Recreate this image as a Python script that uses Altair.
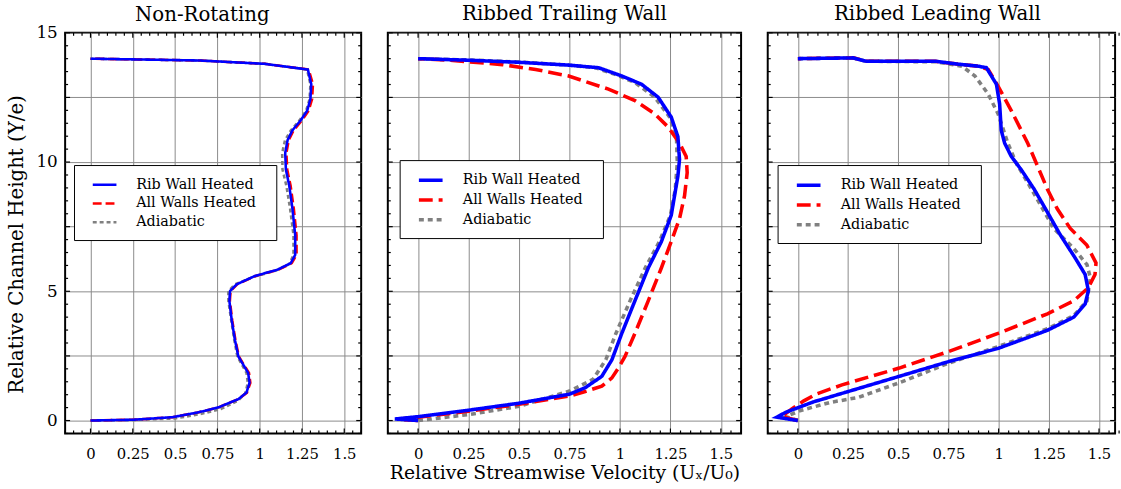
import altair as alt
import pandas as pd

SERIES = ["Rib Wall Heated", "All Walls Heated", "Adiabatic"]
COLORS = ["#0000ff", "#ff0000", "#808080"]

TITLES = ["Non-Rotating", "Ribbed Trailing Wall", "Ribbed Leading Wall"]
X_TITLE = "Relative Streamwise Velocity (U\u2093/U\u2080)"
Y_TITLE = "Relative Channel Height (Y/e)"

X_TICK_VALUES = [0, 0.25, 0.5, 0.75, 1, 1.25, 1.5]
Y_GRID_VALUES = [0, 2.5, 5, 7.5, 10, 12.5, 15]

# ---------------- Non-Rotating ----------------
nr_blue_x = [0, 0.25, 0.485, 0.64, 0.757, 0.874, 0.922, 0.94, 0.932, 0.903, 0.874, 0.854, 0.835, 0.821, 0.825, 0.864,
             0.971, 1.107, 1.184, 1.21, 1.21, 1.194, 1.175, 1.155, 1.151, 1.165, 1.194, 1.242, 1.281, 1.30, 1.305,
             1.285, 1.029, 0.64, 0]
nr_blue_y = [0, 0.03, 0.13, 0.32, 0.51, 0.83, 1.08, 1.46, 1.84, 2.16, 2.48, 3.11, 3.87, 4.63, 5.01, 5.27,
             5.59, 5.84, 6.09, 6.41, 7.17, 8.19, 9.08, 9.71, 10.35, 10.85, 11.23, 11.61, 11.99, 12.44, 13.01,
             13.58, 13.8, 13.93, 14.0]
nr_red_x = [0, 0.25, 0.485, 0.64, 0.757, 0.874, 0.925, 0.945, 0.937, 0.906, 0.877, 0.857, 0.838, 0.824, 0.828, 0.867,
            0.975, 1.112, 1.19, 1.218, 1.218, 1.202, 1.183, 1.163, 1.158, 1.172, 1.201, 1.25, 1.29, 1.31, 1.315,
            1.29, 1.029, 0.64, 0]
nr_red_y = nr_blue_y
nr_gray_x = [0, 0.25, 0.5, 0.65, 0.77, 0.874, 0.915, 0.93, 0.922, 0.895, 0.868, 0.85, 0.832, 0.815, 0.815, 0.855,
             0.96, 1.095, 1.175, 1.2, 1.2, 1.18, 1.158, 1.135, 1.133, 1.15, 1.185, 1.235, 1.275, 1.295, 1.3,
             1.28, 1.029, 0.64, 0]
nr_gray_y = [0, 0.02, 0.08, 0.25, 0.44, 0.78, 1.05, 1.46, 1.84, 2.16, 2.48, 3.11, 3.87, 4.63, 5.01, 5.27,
             5.55, 5.8, 6.05, 6.41, 7.17, 8.19, 9.08, 9.71, 10.35, 10.85, 11.23, 11.61, 11.99, 12.44, 13.01,
             13.58, 13.8, 13.93, 14.0]

# ---------------- Ribbed Trailing Wall ----------------
tr_blue_x = [0, -0.115, 0.0, 0.25, 0.5, 0.75, 0.828, 0.91, 0.96, 1.009, 1.074, 1.14, 1.205, 1.254, 1.287, 1.295,
             1.287, 1.254, 1.189, 1.107, 1.009, 0.894, 0.746, 0.5, 0.25, 0]
tr_blue_y = [0, 0.06, 0.15, 0.4, 0.67, 1.02, 1.27, 1.71, 2.35, 3.37, 4.63, 5.9, 6.92, 7.94, 9.46, 10.09,
             10.98, 11.74, 12.51, 13.01, 13.33, 13.65, 13.75, 13.86, 13.94, 14.0]
tr_red_x = [0, -0.1, 0.0, 0.25, 0.5, 0.75, 0.828, 0.91, 0.96, 0.992, 1.025, 1.074, 1.14, 1.205, 1.254, 1.295,
            1.32, 1.333, 1.328, 1.295, 1.238, 1.172, 1.074, 0.943, 0.746, 0.582, 0.418, 0.172, 0]
tr_red_y = [0, 0.05, 0.13, 0.36, 0.63, 0.95, 1.12, 1.33, 1.65, 2.03, 2.48, 3.37, 4.63, 5.9, 6.92, 7.81,
            8.7, 9.59, 10.22, 10.73, 11.36, 11.87, 12.38, 12.82, 13.33, 13.58, 13.77, 13.93, 14.0]
tr_gray_x = [0, 0.25, 0.5, 0.75, 0.866, 0.93, 0.98, 1.05, 1.125, 1.195, 1.25, 1.274, 1.284, 1.28, 1.246,
             1.172, 1.074, 0.976, 0.878, 0.73, 0.5, 0.25, 0]
tr_gray_y = [0, 0.23, 0.55, 1.14, 1.59, 2.35, 3.37, 4.63, 5.9, 6.92, 7.94, 8.95, 9.97, 10.98, 11.74,
             12.51, 13.08, 13.39, 13.65, 13.76, 13.87, 13.95, 14.0]

# ---------------- Ribbed Leading Wall ----------------
ld_blue_x = [0, -0.105, -0.06, 0.077, 0.241, 0.505, 0.751, 0.997, 1.243, 1.374, 1.431, 1.447, 1.431, 1.382, 1.308,
             1.243, 1.177, 1.112, 1.063, 1.03, 1.013, 1.005, 0.989, 0.939, 0.898, 0.784, 0.685, 0.341, 0.275, 0]
ld_blue_y = [0, 0.13, 0.32, 0.72, 1.1, 1.71, 2.28, 2.79, 3.49, 4.0, 4.51, 5.02, 5.65, 6.28, 7.17,
             8.06, 8.95, 9.71, 10.22, 10.73, 11.23, 12.25, 13.01, 13.65, 13.71, 13.8, 13.9, 13.9, 14.03, 14.0]
ld_red_x = [0, -0.08, -0.03, 0.03, 0.09, 0.22, 0.505, 0.751, 0.997, 1.243, 1.374, 1.447, 1.48, 1.485, 1.439, 1.357,
            1.292, 1.243, 1.194, 1.145, 1.104, 1.063, 0.997, 0.948, 0.898, 0.784, 0.685, 0.341, 0.275, 0]
ld_red_y = [0, 0.15, 0.45, 0.76, 1.02, 1.38, 2.03, 2.67, 3.37, 4.13, 4.63, 5.14, 5.65, 6.1, 6.79, 7.43,
            8.19, 8.95, 9.84, 10.73, 11.36, 11.99, 12.94, 13.58, 13.71, 13.8, 13.9, 13.9, 14.03, 14.0]
ld_gray_x = [0, -0.06, 0.01, 0.16, 0.3, 0.505, 0.751, 0.997, 1.243, 1.374, 1.44, 1.457, 1.44, 1.374, 1.275,
             1.21, 1.145, 1.087, 1.046, 0.997, 0.948, 0.882, 0.817, 0.685, 0.341, 0.275, 0]
ld_gray_y = [0, 0.15, 0.38, 0.7, 0.89, 1.46, 2.22, 2.86, 3.55, 4.06, 4.63, 5.52, 6.03, 6.66, 7.43,
             8.32, 9.2, 9.97, 10.73, 11.87, 12.63, 13.33, 13.71, 13.88, 13.9, 14.03, 14.0]

FONT = "DejaVu Serif"
H = 406
Y_DOMAIN = [-0.5, 15]


def frame(series_xy):
    rows = []
    for name, xs, ys in series_xy:
        for i, (x, y) in enumerate(zip(xs, ys)):
            rows.append({"x": x, "y": y, "i": i, "series": name})
    return pd.DataFrame(rows)


def ticks(lo, hi, step):
    n = int(round((hi - lo) / step))
    return [round(lo + k * step, 4) for k in range(n + 1)]


def panel(idx, data, width, xdom, widths, dashes, legend_xy, title_dx, title_offset, first, middle):
    xscale = alt.Scale(domain=xdom, nice=False, zero=False)
    yscale = alt.Scale(domain=Y_DOMAIN, nice=False, zero=False)
    xaxis = alt.Axis(values=X_TICK_VALUES, labelExpr="toString(datum.value)", grid=True, gridColor="#8a8a8a",
                     gridWidth=1, domain=False, ticks=False, labelFont=FONT, labelFontSize=15, labelColor="black",
                     labelPadding=13, title=X_TITLE if middle else None, titleFont=FONT, titleFontSize=19,
                     titleFontWeight="normal", titleColor="black", titlePadding=3)
    yaxis = alt.Axis(values=Y_GRID_VALUES, grid=True, gridColor="#8a8a8a", gridWidth=1, domain=False, ticks=False,
                     labels=first, labelExpr="datum.value % 5 == 0 ? datum.label : ''", labelFont=FONT,
                     labelFontSize=17, labelColor="black", labelPadding=8,
                     title=Y_TITLE if first else None, titleFont=FONT, titleFontSize=20, titleFontWeight="normal",
                     titleColor="black", titlePadding=10, titleY=214)
    legend = alt.Legend(orient="none", legendX=legend_xy[0], legendY=legend_xy[1], title=None,
                        fillColor="white", strokeColor="black", padding=11, symbolType="M-1.6,0L1.6,0",
                        symbolSize=225, symbolOffset=11, labelOffset=23, rowPadding=3,
                        labelFont=FONT, labelFontSize=14.5, labelColor="black",
                        labelExpr="datum.label + '\u00a0\u00a0\u200b'")
    cscale = alt.Scale(domain=SERIES, range=COLORS)
    dscale = alt.Scale(domain=SERIES, range=dashes)
    wscale = alt.Scale(domain=SERIES, range=widths)

    layers = []
    for s in reversed(SERIES):
        d = data[data.series == s]
        layers.append(
            alt.Chart(d).mark_line(clip=True).encode(
                x=alt.X("x:Q", scale=xscale, axis=xaxis),
                y=alt.Y("y:Q", scale=yscale, axis=yaxis),
                order=alt.Order("i:Q"),
                color=alt.Color("series:N", scale=cscale, legend=legend),
                strokeDash=alt.StrokeDash("series:N", scale=dscale, legend=legend),
                strokeWidth=alt.StrokeWidth("series:N", scale=wscale, legend=legend),
            )
        )

    xt_all = ticks(-0.15, xdom[1], 0.05)
    xt_major = [v for v in xt_all if abs(v / 0.25 - round(v / 0.25)) < 1e-6]
    xt_minor = [v for v in xt_all if v not in xt_major]
    yt_all = ticks(-0.5, 15, 0.5)
    yt_major = [v for v in yt_all if abs(v / 2.5 - round(v / 2.5)) < 1e-6]
    yt_minor = [v for v in yt_all if v not in yt_major]

    for vals, L in ((xt_major, 5), (xt_minor, 3)):
        src = alt.Chart(pd.DataFrame({"x": vals})).mark_rule(color="black", strokeWidth=1.2)
        layers.append(src.encode(x=alt.X("x:Q", scale=xscale, axis=xaxis), y=alt.value(H), y2=alt.value(H - L)))
        layers.append(src.encode(x=alt.X("x:Q", scale=xscale, axis=xaxis), y=alt.value(0), y2=alt.value(L)))
    for vals, L in ((yt_major, 5), (yt_minor, 3)):
        src = alt.Chart(pd.DataFrame({"y": vals})).mark_rule(color="black", strokeWidth=1.2)
        layers.append(src.encode(y=alt.Y("y:Q", scale=yscale, axis=yaxis), x=alt.value(0), x2=alt.value(L)))
        layers.append(src.encode(y=alt.Y("y:Q", scale=yscale, axis=yaxis), x=alt.value(width),
                                 x2=alt.value(width - L)))

    return alt.layer(*layers).properties(
        width=width, height=H,
        title=alt.TitleParams(TITLES[idx], font=FONT, fontSize=20, fontWeight="normal", color="black",
                              anchor="middle", frame="group", offset=title_offset, dx=title_dx),
    )


nr = frame([(SERIES[0], nr_blue_x, nr_blue_y), (SERIES[1], nr_red_x, nr_red_y), (SERIES[2], nr_gray_x, nr_gray_y)])
tr = frame([(SERIES[0], tr_blue_x, tr_blue_y), (SERIES[1], tr_red_x, tr_red_y), (SERIES[2], tr_gray_x, tr_gray_y)])
ld = frame([(SERIES[0], ld_blue_x, ld_blue_y), (SERIES[1], ld_red_x, ld_red_y), (SERIES[2], ld_gray_x, ld_gray_y)])

p1 = panel(0, nr, 300, [-0.15, 1.6], [2.6, 2.6, 4], [[1, 0], [9, 4], [4, 3]], (9, 134), -11, -1, True, False)
p2 = panel(1, tr, 358, [-0.15, 1.6], [3.6, 3.6, 5], [[1, 0], [14, 6], [5, 4]], (12, 129), 0, 8, False, True)
p3 = panel(2, ld, 352, [-0.15, 1.58], [3.6, 3.6, 5], [[1, 0], [14, 6], [5, 4]], (10, 134), -4, 8, False, False)

chart = alt.hconcat(p1, p2, p3, spacing=23).resolve_scale(
    x="independent", y="independent", color="independent", strokeDash="independent", strokeWidth="independent"
).configure(
    font=FONT, padding={"left": 5, "top": 0, "right": 0, "bottom": 0}, background="white"
).configure_view(stroke="black", strokeWidth=2).configure_legend(labelFont=FONT, labelFontSize=14.5)

chart.save("out.html", embed_options={"renderer": "svg", "actions": False})
